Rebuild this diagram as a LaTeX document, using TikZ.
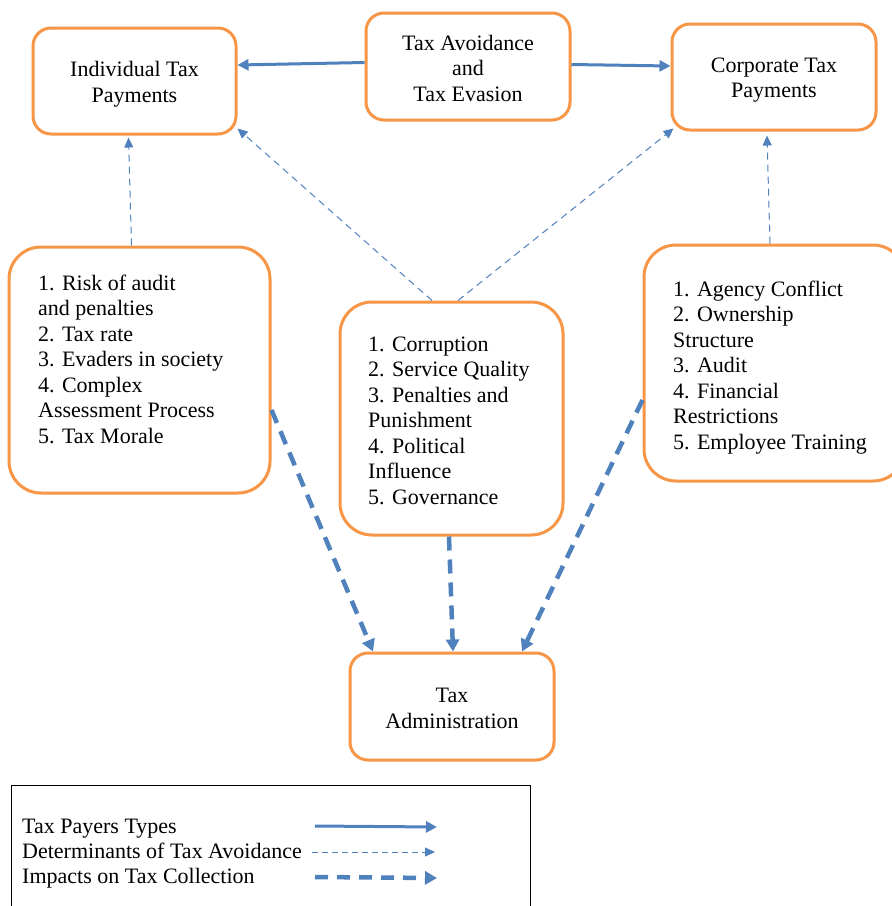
\documentclass[tikz,border=0pt]{standalone}
\usepackage{fontspec}
\setmainfont{Liberation Serif}
\usetikzlibrary{arrows.meta,calc}
\definecolor{boxorange}{HTML}{F79646}
\definecolor{arrowblue}{HTML}{4F81BD}
\begin{document}
\begin{tikzpicture}[x=1pt,y=-1pt,
  txt/.style={font=\fontsize{22}{25.5}\selectfont},
  box/.style={draw=boxorange, line width=3pt, rounded corners=18pt, fill=white, inner sep=0pt, minimum width=204pt, minimum height=107pt},
  boxtext/.style={txt, align=center, inner sep=0pt},
  listbox/.style={draw=boxorange, line width=3pt, rounded corners=32pt, fill=white, inner sep=0pt},
  listtext/.style={txt, align=left, anchor=north west, inner sep=0pt},
  legtext/.style={txt, anchor=base west, inner sep=0pt},
  solidarrow/.style={draw=arrowblue, line width=3pt, -{Triangle[length=11pt,width=11pt]}},
  thinarrow/.style={draw=arrowblue, line width=1pt, dash pattern=on 7pt off 5pt, -{Triangle[length=10pt,width=9pt]}},
  thickarrow/.style={draw=arrowblue, line width=4.5pt, dash pattern=on 14pt off 9pt, -{Triangle[length=12pt,width=13pt]}},
]
\path[use as bounding box] (0,0) rectangle (892,906);
\clip (0,0) rectangle (892,906);
\fill[white] (0,0) rectangle (892,906);

% top boxes
\node[box, minimum width=203pt, minimum height=106pt] (ind) at (134.5,81) {};
\node[box] (tav) at (468,66.5) {};
\node[box, minimum height=106pt] (corp) at (774,77) {};
\node[box] (tadm) at (452,706.5) {};
\node[boxtext] (indt) at ($(ind)+(0,3)$) {Individual Tax\\Payments};
\node[boxtext] (tavt) at ($(tav)+(0,1.5)$) {Tax Avoidance\\and\\Tax Evasion};
\node[boxtext] (corpt) at ($(corp)+(0,3)$) {Corporate Tax\\Payments};
\node[boxtext] (tadmt) at ($(tadm)+(0,2)$) {Tax\\Administration};

% list boxes
\node[listbox, minimum width=261pt, minimum height=246pt] (lbox) at (139.5,370) {};
\node[listbox, minimum width=223pt, minimum height=233pt] (mbox) at (451.5,418.5) {};
\node[listbox, minimum width=261pt, minimum height=236pt] (rbox) at (774.5,363) {};

\node[listtext] (ltext) at (38,274.5) {1. Risk of audit\\and penalties\\2. Tax rate\\3. Evaders in society\\4. Complex\\Assessment Process\\5. Tax Morale};
\node[listtext] (mtext) at (368,336.5) {1. Corruption\\2. Service Quality\\3. Penalties and\\Punishment\\4. Political\\Influence\\5. Governance};
\node[listtext] (rtext) at (673,280.5) {1. Agency Conflict\\2. Ownership\\Structure\\3. Audit\\4. Financial\\Restrictions\\5. Employee Training};

% solid arrows
\draw[solidarrow] ($(tav.west)+(0,-4)$) -- ($(ind.east)+(0,-16)$);
\draw[solidarrow] ($(tav.east)+(0,-2)$) -- ($(corp.west)+(0,-11)$);

% thin dashed arrows
\draw[thinarrow] ($(lbox.north)+(-8,0)$) -- ($(ind.south)+(-6,2)$);
\draw[thinarrow] ($(mbox.north)+(-19.5,0)$) -- ($(ind.south east)+(0,-7)$);
\draw[thinarrow] ($(mbox.north)+(6.5,0)$) -- ($(corp.south west)+(3,-3)$);
\draw[thinarrow] ($(rbox.north)+(-4.5,0)$) -- ($(corp.south)+(-7,4)$);

% thick dashed arrows
\draw[thickarrow] ($(lbox.east)+(0,40)$) -- ($(tadm.north)+(-79,0)$);
\draw[thickarrow] ($(mbox.south)+(-2.5,0)$) -- ($(tadm.north)+(1,0)$);
\draw[thickarrow] ($(rbox.west)+(0,37)$) -- ($(tadm.north)+(70,0)$);

% legend
\node[draw=black, line width=1pt, minimum width=519pt, minimum height=140pt, inner sep=0pt] (legend) at (270.5,855) {};
\node[legtext] (leg1) at (22,833) {Tax Payers Types};
\node[legtext] (leg2) at (22,858) {Determinants of Tax Avoidance};
\node[legtext] (leg3) at (22,883) {Impacts on Tax Collection};
\coordinate (l1a) at (315,826);
\coordinate (l1b) at (437,827);
\coordinate (l2a) at (312,852);
\coordinate (l2b) at (435,852);
\coordinate (l3a) at (315,877);
\coordinate (l3b) at (437,878);
\draw[solidarrow] (l1a) -- (l1b);
\draw[thinarrow, dash pattern=on 6pt off 4pt] (l2a) -- (l2b);
\draw[thickarrow, dash pattern=on 13pt off 9pt] (l3a) -- (l3b);
\end{tikzpicture}
\end{document}
